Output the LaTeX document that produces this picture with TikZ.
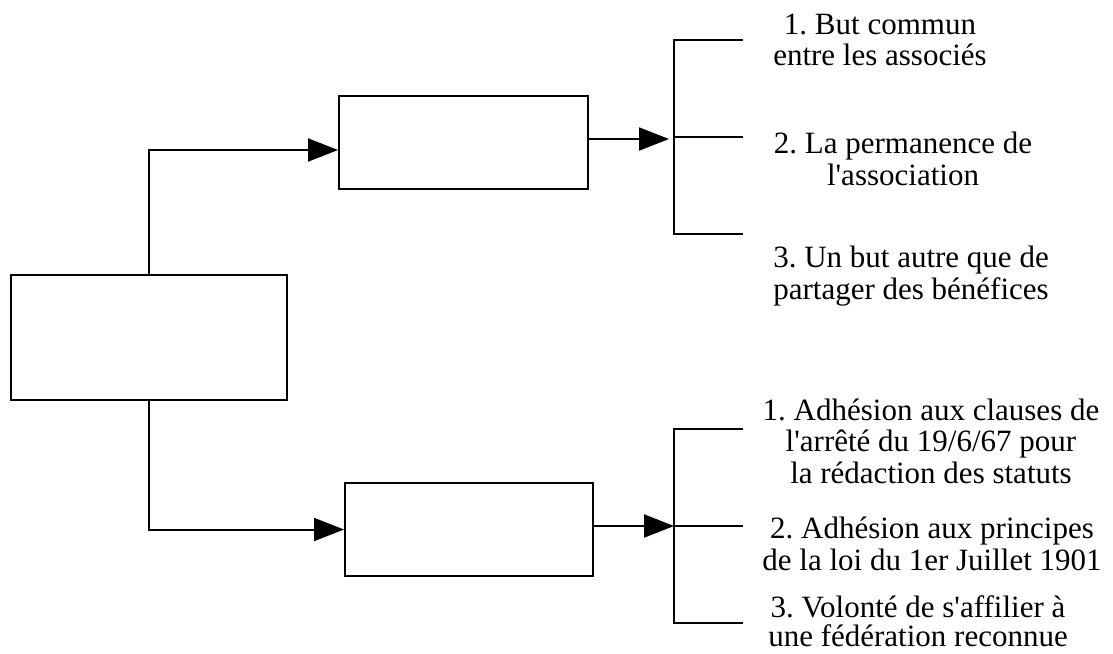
\documentclass[tikz,border=0pt]{standalone}
\usepackage{fontspec}
\setmainfont{Liberation Serif}
\usetikzlibrary{arrows.meta,calc}
\newcommand{\apos}{\textquotesingle}
\frenchspacing
\begin{document}
\begin{tikzpicture}[x=1pt,y=-1pt,
  box/.style={draw,line width=2pt,minimum width=#1,inner sep=0pt},
  conn/.style={line width=2pt},
  arr/.style={line width=2pt,-{Triangle[length=30pt,width=23pt]}},
  item/.style={align=center,inner sep=0pt,font=\fontsize{31}{31.5}\selectfont\frenchspacing}]
\useasboundingbox (0,0) rectangle (1113,653);
% boxes
\node[box=276pt,minimum height=125pt] (lb) at (149,337.5) {};
\node[box=249pt,minimum height=93pt] (tb) at (463.5,142.5) {};
\node[box=248pt,minimum height=93pt] (bb) at (469,529.5) {};
% connectors from left box
\draw[arr] (lb.north) |- ([yshift=-7.5pt]tb.west);
\draw[arr] (lb.south) |- (bb.west);
% top bracket
\coordinate (t1) at (674,40);
\coordinate (t2) at (674,137);
\coordinate (t3) at (674,234);
\coordinate (t1e) at (743,40);
\coordinate (t2e) at (743,137);
\coordinate (t3e) at (743,234);
\draw[conn] (t1e) -- (t1) -- (t3) -- (t3e);
\draw[conn] (t2) -- (t2e);
\draw[arr] ([yshift=3.5pt]tb.east) -- ([yshift=3.5pt,xshift=-5pt]tb.east -| t2);
% bottom bracket
\coordinate (b1) at (674,429);
\coordinate (b2) at (674,526);
\coordinate (b3) at (674,623);
\coordinate (b1e) at (743,429);
\coordinate (b2e) at (743,526);
\coordinate (b3e) at (743,623);
\draw[conn] (b1e) -- (b1) -- (b3) -- (b3e);
\draw[conn] (b2) -- (b2e);
\draw[arr] ([yshift=3.5pt]bb.east) -- ([yshift=3.5pt]bb.east -| b2);
% texts
\node[item] (i1) at (880,40) {1. But commun\\entre les associés};
\node[item] (i2) at (903,159) {2. La permanence de\\l\apos association};
\node[item] (i3) at (911,276) {3. Un but autre que de\\partager des bénéfices};
\node[item] (j1) at (931,441) {1. Adhésion aux clauses de\\l\apos arrêté du 19/6/67 pour\\la rédaction des statuts};
\node[item] (j2) at (932,544) {2. Adhésion aux principes\\de la loi du 1er Juillet 1901};
\node[item,font=\fontsize{31}{29}\selectfont\frenchspacing] (j3) at (918,621) {3. Volonté de s\apos affilier à\\une fédération reconnue};
\end{tikzpicture}
\end{document}
